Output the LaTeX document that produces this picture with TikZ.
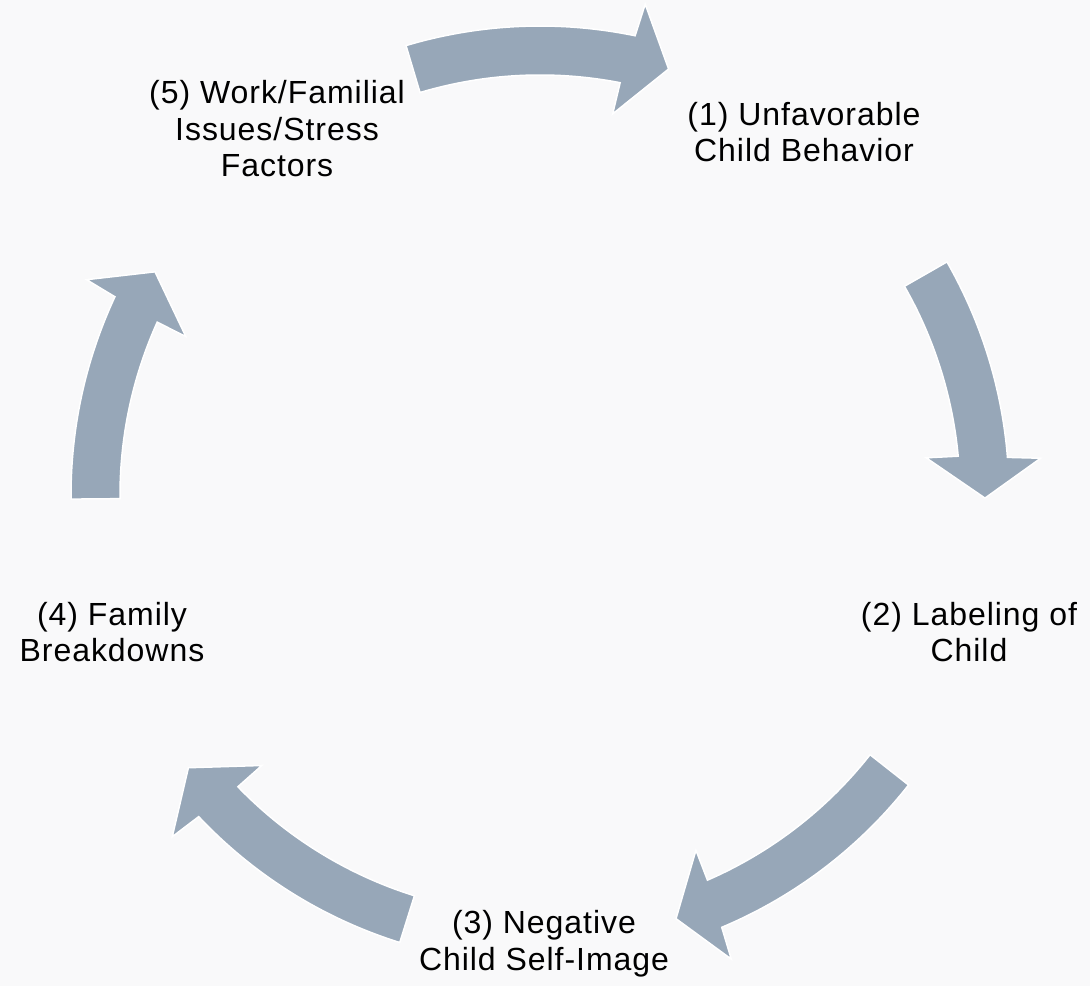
\documentclass[tikz,border=0pt]{standalone}
\usepackage{fontspec}
\setmainfont{Liberation Sans}[LetterSpace=3]
\definecolor{cyclebg}{RGB}{249,249,250}
\definecolor{cyclearrow}{RGB}{151,167,184}
\tikzset{
  cyclelabel/.style={align=center, anchor=base, inner sep=0pt, font=\fontsize{32}{36.5}\selectfont},
  cycleshape/.style={fill=cyclearrow, draw=white, line width=1.5pt, line join=miter}
}
\begin{document}
\begin{tikzpicture}[x=1pt,y=1pt]
\fill[cyclebg] (0,0) rectangle (1090,986);
\useasboundingbox (0,0) rectangle (1090,986);
\coordinate (mid) at (540,491);
% labels (placed at the baseline of their last line)
\node[cyclelabel] (lab1) at (804,824) {(1) Unfavorable\\Child Behavior};
\node[cyclelabel] (lab2) at (969,324) {(2) Labeling of\\Child};
\node[cyclelabel] (lab3) at (544,16) {(3) Negative\\Child Self-Image};
\node[cyclelabel] (lab4) at (112,324) {(4) Family\\Breakdowns};
\node[cyclelabel] (lab5) at (277,809) {(5) Work/Familial\\Issues/Stress\\Factors};
% arrows
\begin{scope}[shift={(mid)}]
\filldraw[cycleshape] (106.6:469) arc[start angle=106.6, end angle=78.3, radius=469] -- (77.9:502) -- (73.2:445) -- (79.2:388) -- (79.0:420) arc[start angle=79.0, end angle=106.6, radius=420] -- cycle;
\filldraw[cycleshape] (29.8:469) arc[start angle=29.8, end angle=4.6, radius=469] -- (4.2:502) -- (-0.4:445) -- (5.5:388) -- (5.3:420) arc[start angle=5.3, end angle=29.8, radius=420] -- cycle;
\filldraw[cycleshape] (-38.2:469) arc[start angle=-38.2, end angle=-67.2, radius=469] -- (-67.6:502) -- (-72.2:445) -- (-66.3:388) -- (-66.5:420) arc[start angle=-66.5, end angle=-38.2, radius=420] -- cycle;
\filldraw[cycleshape] (-107.4:469) arc[start angle=-107.4, end angle=-136.7, radius=469] -- (-137.1:502) -- (-142.2:445) -- (-135.8:388) -- (-136.0:420) arc[start angle=-136.0, end angle=-107.4, radius=420] -- cycle;
\filldraw[cycleshape] (180.5:469) arc[start angle=180.5, end angle=155.0, radius=469] -- (154.6:502) -- (149.9:445) -- (155.9:388) -- (155.7:420) arc[start angle=155.7, end angle=180.5, radius=420] -- cycle;
\end{scope}
\end{tikzpicture}
\end{document}
